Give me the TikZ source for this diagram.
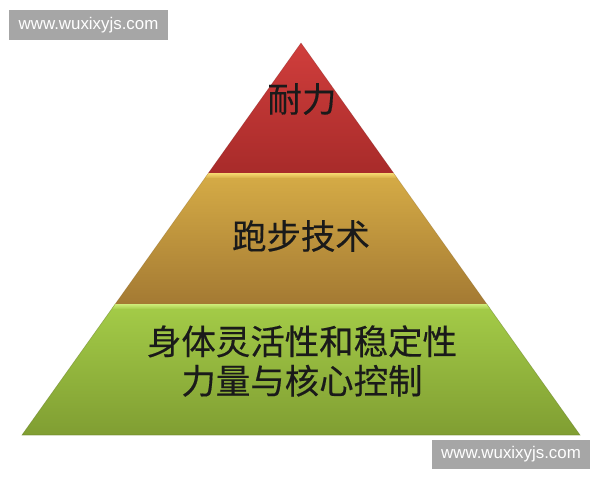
\documentclass[tikz,border=0pt]{standalone}
\usepackage{fontspec}
\setsansfont{Liberation Sans}
\newfontfamily\cjk[FakeBold=0.35]{Noto Sans CJK SC}
\usetikzlibrary{calc}
\definecolor{redtop}{HTML}{D03E3C}
\definecolor{redbot}{HTML}{A82B2A}
\definecolor{goldtop}{HTML}{D6AC46}
\definecolor{goldbot}{HTML}{A47A33}
\definecolor{goldlight}{HTML}{F6D870}
\definecolor{greentop}{HTML}{A4CC48}
\definecolor{greenbot}{HTML}{809E32}
\definecolor{greenlight}{HTML}{CDEC78}
\definecolor{markgray}{HTML}{A6A6A6}
\definecolor{ink}{HTML}{1A1A1A}

\begin{document}
\begin{tikzpicture}[x=0.025cm,y=-0.025cm,
    layer/.style={text=ink, font=\cjk\fontsize{24.5}{28}\selectfont, align=center},
    watermark/.style={fill=markgray, text=white, font=\sffamily\fontsize{12}{14}\selectfont, inner sep=0pt}]
    \useasboundingbox (0,0) rectangle (600,480);
    \coordinate (A) at (301,43);
    \coordinate (L) at (22,435);
    \coordinate (R) at (580,435);
    \coordinate (L1) at ($(A)!0.332!(L)$);
    \coordinate (R1) at ($(A)!0.332!(R)$);
    \coordinate (L2) at ($(A)!0.666!(L)$);
    \coordinate (R2) at ($(A)!0.666!(R)$);
    \coordinate (L1b) at ($(A)!0.345!(L)$);
    \coordinate (R1b) at ($(A)!0.345!(R)$);
    \coordinate (L2b) at ($(A)!0.679!(L)$);
    \coordinate (R2b) at ($(A)!0.679!(R)$);
    \shade[top color=redtop, bottom color=redbot] (A)--(L1)--(R1)--cycle;
    \shade[top color=goldtop, bottom color=goldbot] (L1)--(L2)--(R2)--(R1)--cycle;
    \shade[top color=greentop, bottom color=greenbot] (L2)--(L)--(R)--(R2)--cycle;
    % bevel strips
    \shade[top color=goldlight, bottom color=goldtop] (L1)--(L1b)--(R1b)--(R1)--cycle;
    \shade[top color=greenlight, bottom color=greentop] (L2)--(L2b)--(R2b)--(R2)--cycle;
    \draw[redbot!80!black, opacity=.4] (L1)--(A)--(R1);
    \draw[goldbot!80!black, opacity=.3] (L1)--(L2) (R1)--(R2);
    \draw[greenbot!80!black, opacity=.5] (L2)--(L)--(R)--(R2);
    \node[layer] (top) at (302,99) {耐力};
    \node[layer] (mid) at (301,236) {跑步技术};
    \node[layer] (base) at (302,361) {身体灵活性和稳定性\\力量与核心控制};
    \node[watermark, minimum width=112.7pt, minimum height=21.3pt] (mark1) at (88.5,25) {www.wuxixyjs.com};
    \node[watermark, minimum width=112pt, minimum height=20.6pt] (mark2) at (511,454.5) {www.wuxixyjs.com};
\end{tikzpicture}
\end{document}
